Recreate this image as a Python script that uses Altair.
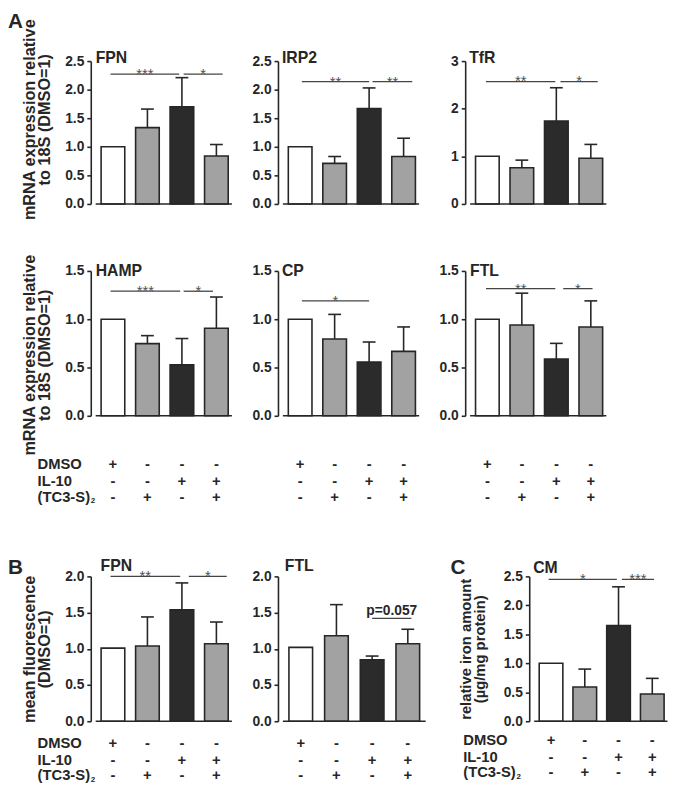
import altair as alt
import pandas as pd

FONT = "Liberation Sans"
INK = "#262626"
STAR = "#505050"

POS = [0, 1, 2, 3]
FILLS = ["#ffffff", "#a2a2a2", "#2b2b2b", "#a2a2a2"]
SIGN_ROWS = ["DMSO", "IL-10", "(TC3-S)"]
SIGN_DMSO = ["+", "-", "-", "-"]
SIGN_IL10 = ["-", "-", "+", "+"]
SIGN_TC3S = ["-", "+", "-", "+"]

# ---- Panel A (mRNA) ----
FPN_A_MEAN = [1.0, 1.335, 1.70, 0.84]
FPN_A_TOP = [None, 1.66, 2.21, 1.04]
FPN_A_SIG = [(-0.07, 1.92, 2.27, "***"), (2.05, 3.18, 2.27, "*")]

IRP2_MEAN = [1.0, 0.71, 1.67, 0.83]
IRP2_TOP = [None, 0.83, 2.03, 1.15]
IRP2_SIG = [(0.05, 2.0, 2.14, "**"), (2.1, 3.25, 2.14, "**")]

TFR_MEAN = [1.0, 0.76, 1.74, 0.96]
TFR_TOP = [None, 0.92, 2.44, 1.25]
TFR_SIG = [(-0.04, 1.97, 2.57, "**"), (2.12, 3.2, 2.57, "*")]

HAMP_MEAN = [1.0, 0.747, 0.527, 0.907]
HAMP_TOP = [None, 0.83, 0.80, 1.23]
HAMP_SIG = [(-0.07, 1.95, 1.29, "***"), (2.05, 2.9, 1.29, "*")]

CP_MEAN = [1.0, 0.795, 0.556, 0.667]
CP_TOP = [None, 1.05, 0.764, 0.92]
CP_SIG = [(0.05, 2.0, 1.19, "*")]

FTL_A_MEAN = [1.0, 0.94, 0.587, 0.92]
FTL_A_TOP = [None, 1.27, 0.75, 1.19]
FTL_A_SIG = [(-0.04, 1.97, 1.317, "**"), (2.2, 3.05, 1.317, "*")]

# ---- Panel B (protein) ----
FPN_B_MEAN = [1.01, 1.04, 1.54, 1.07]
FPN_B_TOP = [None, 1.44, 1.91, 1.37]
FPN_B_SIG = [(-0.07, 1.95, 2.0, "**"), (2.2, 3.3, 2.0, "*")]

FTL_B_MEAN = [1.02, 1.18, 0.85, 1.07]
FTL_B_TOP = [None, 1.61, 0.90, 1.27]
FTL_B_SIG = [(2.0, 3.1, 1.42, "p=0.057")]

# ---- Panel C (iron) ----
CM_MEAN = [1.0, 0.59, 1.65, 0.47]
CM_TOP = [None, 0.90, 2.32, 0.74]
CM_SIG = [(-0.07, 1.95, 2.45, "*"), (2.1, 3.05, 2.45, "***")]

TICKS_25 = [0, 0.5, 1.0, 1.5, 2.0, 2.5]
TICKS_3 = [0, 1, 2, 3]
TICKS_15 = [0, 0.5, 1.0, 1.5]
TICKS_20 = [0, 0.5, 1.0, 1.5, 2.0]

TITLE_A = ["mRNA expression relative", "to 18S (DMSO=1)"]
TITLE_B = ["mean fluorescence", "(DMSO=1)"]
TITLE_C = ["relative iron amount", "(\u00b5g/mg protein)"]


def txt(s, x, y, size, weight="bold", color=INK, align="left", baseline="alphabetic"):
    return alt.Chart(pd.DataFrame({"t": [s]})).mark_text(
        align=align, baseline=baseline, font=FONT, fontSize=size,
        fontWeight=weight, color=color
    ).encode(x=alt.value(x), y=alt.value(y), text="t:N")


def panel(name, mean, top, ymax, ticks, fmt, sig, name_xy, width=150, height=147,
          xmax=3.5, base_end=3.45, ytitle=None, title_y=None, title_pad=12,
          title_size=16.5, letter=None, table=None, label_x=-54):
    xs = alt.Scale(domain=[-0.5, xmax], nice=False, zero=False)
    ys = alt.Scale(domain=[0, ymax], nice=False)
    df = pd.DataFrame({"pos": POS, "mean": mean, "top": top, "fill": FILLS})
    ax_kw = dict(values=ticks, tickCount=20, format=fmt, grid=False, tickSize=4,
                 labelPadding=3, labelOverlap=False)
    if ytitle is not None:
        ax_kw["title"] = ytitle
        ax_kw["titlePadding"] = title_pad
        ax_kw["titleFontSize"] = title_size
        ax_kw["titleLineHeight"] = title_size - 1
        if title_y is not None:
            ax_kw["titleY"] = title_y
    else:
        ax_kw["title"] = None
    bars = alt.Chart(df).mark_bar(size=24, stroke=INK, strokeWidth=1.6).encode(
        x=alt.X("pos:Q", scale=xs, axis=None),
        y=alt.Y("mean:Q", scale=ys, axis=alt.Axis(**ax_kw)),
        fill=alt.Fill("fill:N", scale=None),
    )
    edf = df[df["top"].notna()]
    err = alt.Chart(edf).mark_rule(color=INK, strokeWidth=1.6).encode(
        x=alt.X("pos:Q", scale=xs, axis=None),
        y=alt.Y("mean:Q", scale=ys), y2="top:Q")
    cap = alt.Chart(edf).mark_tick(orient="horizontal", size=13, thickness=1.6,
                                   color=INK, opacity=1).encode(
        x=alt.X("pos:Q", scale=xs, axis=None),
        y=alt.Y("top:Q", scale=ys))
    base = alt.Chart(pd.DataFrame({"x1": [-0.5], "x2": [base_end], "y": [0.0]})).mark_rule(
        color=INK, strokeWidth=1.6).encode(
        x=alt.X("x1:Q", scale=xs, axis=None), x2="x2:Q",
        y=alt.Y("y:Q", scale=ys))
    sdf = pd.DataFrame(sig, columns=["x1", "x2", "y", "label"])
    sdf["xm"] = (sdf["x1"] + sdf["x2"]) / 2
    sdf["star"] = sdf["label"].str.startswith("*")
    srule = alt.Chart(sdf).mark_rule(color="#444444", strokeWidth=1.3).encode(
        x=alt.X("x1:Q", scale=xs, axis=None), x2="x2:Q",
        y=alt.Y("y:Q", scale=ys))
    layers = [bars, err, cap, base, srule]
    stars = sdf[sdf["star"]]
    if len(stars):
        layers.append(alt.Chart(stars).mark_text(
            font=FONT, fontSize=15, color=STAR, dy=5, baseline="alphabetic").encode(
            x=alt.X("xm:Q", scale=xs, axis=None),
            y=alt.Y("y:Q", scale=ys), text="label:N"))
    ps = sdf[~sdf["star"]]
    if len(ps):
        layers.append(alt.Chart(ps).mark_text(
            font=FONT, fontSize=14, fontWeight="bold", color=INK, dy=-3,
            baseline="alphabetic").encode(
            x=alt.X("xm:Q", scale=xs, axis=None),
            y=alt.Y("y:Q", scale=ys), text="label:N"))
    layers.append(txt(name, name_xy[0], name_xy[1], 16))
    if letter is not None:
        layers.append(txt(letter[0], letter[1], letter[2], 21))
    if table is not None:
        offs, show = table
        for signs, off in zip([SIGN_DMSO, SIGN_IL10, SIGN_TC3S], offs):
            layers.append(alt.Chart(pd.DataFrame({"pos": POS, "s": signs})).mark_text(
                font=FONT, fontSize=15, fontWeight="bold", color=INK,
                baseline="middle").encode(
                x=alt.X("pos:Q", scale=xs, axis=None),
                y=alt.value(height + off), text="s:N"))
        if show:
            for lab, off in zip(SIGN_ROWS, offs):
                layers.append(txt(lab, label_x, height + off, 15, baseline="middle"))
            layers.append(txt("2", label_x + 54, height + offs[2] + 5, 8, baseline="middle"))
    return alt.layer(*layers).properties(width=width, height=height)


TAB_A = [49, 66, 82]
TAB_B = [22, 39, 55]
TAB_C = [19, 36, 52]

fpn_a = panel("FPN", FPN_A_MEAN, FPN_A_TOP, 2.5, TICKS_25, ".1f", FPN_A_SIG, (5, 2),
              height=145, ytitle=TITLE_A, title_y=59, letter=("A", -84, -34))
irp2 = panel("IRP2", IRP2_MEAN, IRP2_TOP, 2.5, TICKS_25, ".1f", IRP2_SIG, (4, 2), height=145)
tfr = panel("TfR", TFR_MEAN, TFR_TOP, 3, TICKS_3, "d", TFR_SIG, (4, 2), height=145)
hamp = panel("HAMP", HAMP_MEAN, HAMP_TOP, 1.5, TICKS_15, ".1f", HAMP_SIG, (5, 5),
             ytitle=TITLE_A, title_y=85, table=(TAB_A, True))
cp = panel("CP", CP_MEAN, CP_TOP, 1.5, TICKS_15, ".1f", CP_SIG, (4, 5), table=(TAB_A, False))
ftl_a = panel("FTL", FTL_A_MEAN, FTL_A_TOP, 1.5, TICKS_15, ".1f", FTL_A_SIG, (5, 5),
              table=(TAB_A, False))

fpn_b = panel("FPN", FPN_B_MEAN, FPN_B_TOP, 2.0, TICKS_20, ".1f", FPN_B_SIG, (10, -5),
              ytitle=TITLE_B, title_pad=12, letter=("B", -84, -2), table=(TAB_B, True))
ftl_b = panel("FTL", FTL_B_MEAN, FTL_B_TOP, 2.0, TICKS_20, ".1f", FTL_B_SIG, (7, -5),
              width=215, xmax=5.16, base_end=3.5, table=(TAB_B, False))
cm = panel("CM", CM_MEAN, CM_TOP, 2.5, TICKS_25, ".1f", CM_SIG, (4, -3),
           width=147, ytitle=TITLE_C, title_pad=16, title_size=15, letter=("C", -80, -2),
           table=(TAB_C, True), label_x=-67)

rows_a = alt.concat(fpn_a, irp2, tfr, hamp, cp, ftl_a, columns=3,
                    spacing={"row": 68, "column": 40}, bounds="flush")
row_bc = alt.hconcat(fpn_b, ftl_b, cm, spacing=40, bounds="flush")

chart = alt.vconcat(rows_a, row_bc, spacing=53).properties(
    padding={"left": 0, "top": -3, "right": 5, "bottom": 5}
).configure_view(stroke=None).configure_axis(
    labelFont=FONT, labelFontSize=14, labelFontWeight="bold", labelColor=INK,
    titleFont=FONT, titleFontSize=16, titleFontWeight="bold", titleColor=INK,
    domainColor=INK, tickColor=INK, domainWidth=1.6, tickWidth=1.6,
    labelOverlap=False,
)

chart.save("out.html", embed_options={"renderer": "svg", "actions": False})
